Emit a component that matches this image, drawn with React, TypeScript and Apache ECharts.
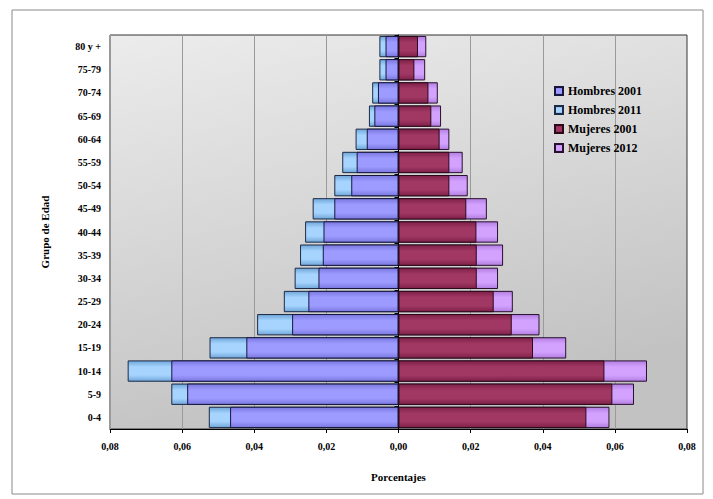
import React, { useEffect, useRef } from "react";
import * as echarts from "echarts";

const categories = ["0-4", "5-9", "10-14", "15-19", "20-24", "25-29", "30-34", "35-39", "40-44", "45-49", "50-54", "55-59", "60-64", "65-69", "70-74", "75-79", "80 y +"];
const hombres2001 = [0.0467, 0.0586, 0.0630, 0.0422, 0.0295, 0.0250, 0.0222, 0.0210, 0.0208, 0.0178, 0.0131, 0.0116, 0.0088, 0.0067, 0.0057, 0.0036, 0.0036];
const hombres2011 = [0.0526, 0.0630, 0.0751, 0.0524, 0.0392, 0.0318, 0.0288, 0.0273, 0.0259, 0.0238, 0.0178, 0.0156, 0.0119, 0.0082, 0.0073, 0.0053, 0.0053];
const mujeres2001 = [0.0521, 0.0593, 0.0571, 0.0373, 0.0314, 0.0264, 0.0217, 0.0217, 0.0216, 0.0188, 0.0141, 0.0141, 0.0114, 0.0091, 0.0083, 0.0044, 0.0054];
const mujeres2012 = [0.0585, 0.0653, 0.0689, 0.0465, 0.0391, 0.0317, 0.0276, 0.0290, 0.0276, 0.0245, 0.0192, 0.0178, 0.0141, 0.0118, 0.0109, 0.0074, 0.0077];
const legendNames = ["Hombres 2001", "Hombres 2011", "Mujeres 2001", "Mujeres 2012"];

const FONT = "'Liberation Serif', 'DejaVu Serif', serif";

function grad(edge: string, mid: string) {
  return {
    type: "linear", x: 0, y: 0, x2: 0, y2: 1,
    colorStops: [
      { offset: 0, color: edge },
      { offset: 0.3, color: mid },
      { offset: 0.7, color: mid },
      { offset: 1, color: edge },
    ],
  };
}

export default function App() {
  const ref = useRef<HTMLDivElement>(null);
  useEffect(() => {
    document.body.style.margin = "0";
    const chart = echarts.init(ref.current!, null, { renderer: "svg" });
    const barBase = {
      type: "bar",
      barGap: "-100%",
      barCategoryGap: "8%",
    };
    chart.setOption({
      animation: false,
      backgroundColor: "#ffffff",
      graphic: [
        {
          type: "rect",
          shape: { x: 12, y: 10, width: 691, height: 484 },
          style: { fill: "none", stroke: "#8a8a8a", lineWidth: 1 },
          z: -1,
        },
      ],
      legend: {
        data: legendNames,
        orient: "vertical",
        left: 549,
        top: 80,
        itemWidth: 8,
        itemHeight: 8,
        itemGap: 7,
        icon: "rect",
        textStyle: { fontFamily: FONT, fontWeight: "bold", fontSize: 12, color: "#000000" },
      },
      grid: {
        left: 110,
        right: 26,
        top: 35,
        bottom: 70,
        show: true,
        borderColor: "#333",
        borderWidth: 1,
        backgroundColor: {
          type: "linear", x: 0, y: 0, x2: 0.3, y2: 1,
          colorStops: [
            { offset: 0, color: "#ececec" },
            { offset: 1, color: "#c2c2c2" },
          ],
        },
      },
      xAxis: {
        type: "value",
        min: -0.08,
        max: 0.08,
        interval: 0.02,
        name: "Porcentajes",
        nameLocation: "middle",
        nameGap: 42,
        nameTextStyle: { fontFamily: FONT, fontWeight: "bold", fontSize: 11, color: "#000000" },
        axisLine: { show: true, lineStyle: { color: "#000" } },
        axisTick: { show: true, length: 4, lineStyle: { color: "#000" } },
        axisLabel: {
          fontFamily: FONT, fontWeight: "bold", fontSize: 10, color: "#000000", margin: 12,
          formatter: (v: number) => Math.abs(v).toFixed(2).replace(".", ","),
        },
        splitLine: { show: true, lineStyle: { color: "#9a9a9a", width: 1 } },
      },
      yAxis: {
        type: "category",
        data: categories,
        name: "Grupo de Edad",
        nameLocation: "middle",
        nameGap: 60,
        nameRotate: 90,
        nameTextStyle: { fontFamily: FONT, fontWeight: "bold", fontSize: 11, color: "#000000" },
        axisLine: { show: true, lineStyle: { color: "#000" } },
        axisTick: { show: true, length: 4, alignWithLabel: false, lineStyle: { color: "#000" } },
        axisLabel: { fontFamily: FONT, fontWeight: "bold", fontSize: 10, color: "#000000", margin: 9 },
        splitLine: { show: false },
      },
      series: [
        {
          ...barBase,
          name: "Hombres 2011",
          data: hombres2011.map((v) => -v),
          itemStyle: { color: grad("#6fa6d8", "#a6d4ff"), borderColor: "#1d2a45", borderWidth: 1 },
        },
        {
          ...barBase,
          name: "Hombres 2001",
          data: hombres2001.map((v) => -v),
          itemStyle: { color: grad("#7a78e0", "#9d9bff"), borderColor: "#16163c", borderWidth: 1 },
        },
        {
          ...barBase,
          name: "Mujeres 2012",
          data: mujeres2012,
          itemStyle: { color: grad("#b27ee0", "#d3a2ff"), borderColor: "#2a1030", borderWidth: 1 },
        },
        {
          ...barBase,
          name: "Mujeres 2001",
          data: mujeres2001,
          itemStyle: { color: grad("#7e2048", "#a13864"), borderColor: "#2a0a18", borderWidth: 1 },
        },
      ],
    });
    return () => chart.dispose();
  }, []);
  return <div ref={ref} style={{ width: 713, height: 499 }} />;
}
